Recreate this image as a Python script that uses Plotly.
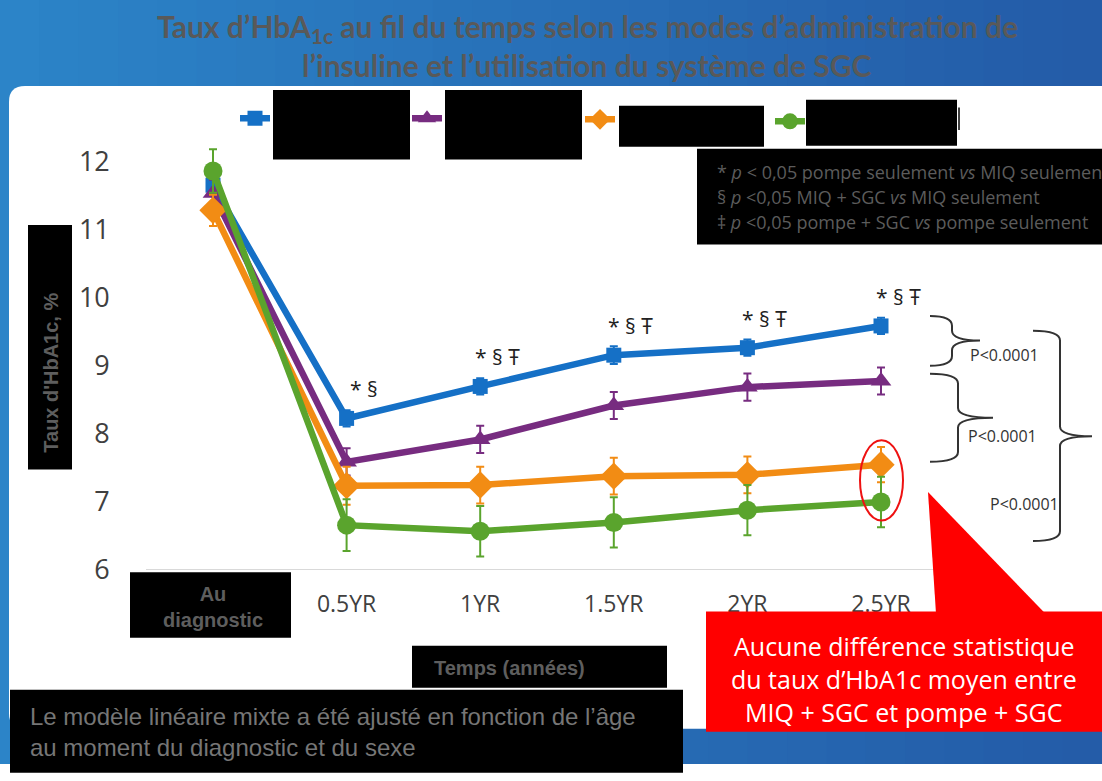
import plotly.graph_objects as go

W, H = 1102, 781

# ---------------- data ----------------
categories = ["Au diagnostic", "0.5YR", "1YR", "1.5YR", "2YR", "2.5YR"]
tick_labels = ["", "0.5YR", "1YR", "1.5YR", "2YR", "2.5YR"]
x_pos = [0, 1, 2, 3, 4, 5]

names = ["MIQ seulement", "Pompe seulement", "MIQ + SGC", "Pompe + SGC"]
miq_only = [11.65, 8.22, 8.69, 9.15, 9.26, 9.58]
pump_only = [11.53, 7.58, 7.91, 8.41, 8.68, 8.77]
miq_sgc = [11.28, 7.23, 7.24, 7.37, 7.39, 7.54]
pump_sgc = [11.86, 6.65, 6.56, 6.69, 6.87, 6.99]

err_miq_only = [0.12, 0.12, 0.12, 0.13, 0.12, 0.12]
err_pump_only = [0.2, 0.2, 0.2, 0.2, 0.2, 0.2]
err_miq_sgc = [0.23, 0.28, 0.27, 0.27, 0.27, 0.26]
err_pump_sgc = [0.32, 0.38, 0.37, 0.37, 0.37, 0.37]

signif = ["", "* §", "* § Ŧ", "* § Ŧ", "* § Ŧ", "* § Ŧ"]

notes = ["* <i>p</i> < 0,05 pompe seulement <i>vs</i> MIQ seulement",
         "§ <i>p</i> <0,05 MIQ + SGC <i>vs</i> MIQ seulement",
         "‡ <i>p</i> <0,05 pompe + SGC <i>vs</i> pompe seulement"]

colors = ["#1570c6", "#772c80", "#f28c14", "#5aa42d"]
symbols = ["square", "triangle-up", "diamond", "circle"]
msizes = [15, 18, 21, 19]


def px(x):
    return x / W


def py(y):
    return 1 - y / H


fig = go.Figure()

series = [miq_only, pump_only, miq_sgc, pump_sgc]
errs = [err_miq_only, err_pump_only, err_miq_sgc, err_pump_sgc]
legends = ["legend", "legend2", "legend3", "legend4"]
for i in range(4):
    fig.add_trace(go.Scatter(
        x=x_pos, y=series[i], name=names[i], mode="lines+markers",
        line=dict(color=colors[i], width=6.5),
        marker=dict(symbol=symbols[i], size=msizes[i], color=colors[i]),
        error_y=dict(type="data", array=errs[i], color=colors[i], thickness=2, width=4),
        cliponaxis=False, legend=legends[i], showlegend=True,
    ))

# ---------------- shapes ----------------
shapes = []
# background gradient
n = 28
c0 = (44, 132, 200)
c1 = (36, 92, 168)
for k in range(n):
    t = k / (n - 1)
    c = tuple(int(c0[j] + (c1[j] - c0[j]) * t) for j in range(3))
    shapes.append(dict(type="rect", xref="paper", yref="paper", layer="below",
                       x0=k / n, x1=(k + 1) / n + 0.002, y0=0, y1=1,
                       fillcolor="rgb(%d,%d,%d)" % c, line=dict(width=0)))

# white rounded panel
r = 16
x0, x1, y0, y1 = 9, 1120, 88, 745
path = (f"M {px(x0+r)},{py(y0)} L {px(x1)},{py(y0)} L {px(x1)},{py(y1)} "
        f"L {px(x0+r)},{py(y1)} Q {px(x0)},{py(y1)} {px(x0)},{py(y1-r)} "
        f"L {px(x0)},{py(y0+r)} Q {px(x0)},{py(y0)} {px(x0+r)},{py(y0)} Z")
shapes.append(dict(type="path", path=path, xref="paper", yref="paper", layer="below",
                   fillcolor="white", line=dict(width=0)))


def brace(xs, ytop, ybot, xv, xp, ym, rr=10):
    p = (f"M {px(xs)},{py(ytop)} Q {px(xv)},{py(ytop)} {px(xv)},{py(ytop+rr)} "
         f"L {px(xv)},{py(ym-rr)} Q {px(xv)},{py(ym)} {px(xp)},{py(ym)} "
         f"Q {px(xv)},{py(ym)} {px(xv)},{py(ym+rr)} "
         f"L {px(xv)},{py(ybot-rr)} Q {px(xv)},{py(ybot)} {px(xs)},{py(ybot)}")
    return dict(type="path", path=p, xref="paper", yref="paper",
                line=dict(color="#333333", width=2))


shapes.append(brace(930, 323, 374, 952, 980, 348))
shapes.append(brace(930, 382, 472, 958, 993, 427))
shapes.append(brace(1033, 338, 553, 1060, 1092, 446))

# red ellipse
shapes.append(dict(type="circle", xref="paper", yref="paper",
                   x0=px(860), x1=px(903), y0=py(532), y1=py(450),
                   line=dict(color="#ee1111", width=2)))
# red callout
shapes.append(dict(type="path", xref="paper", yref="paper",
                   path=f"M {px(928)},{py(503)} L {px(936)},{py(627)} L {px(1045)},{py(627)} Z",
                   fillcolor="#ff0000", line=dict(width=0)))
shapes.append(dict(type="rect", xref="paper", yref="paper",
                   x0=px(706), x1=px(1105), y0=py(748), y1=py(625),
                   fillcolor="#ff0000", line=dict(width=0)))
# thin line next to last legend box
shapes.append(dict(type="line", xref="paper", yref="paper",
                   x0=px(959), x1=px(959), y0=py(110), y1=py(133),
                   line=dict(color="black", width=1.5)))


def box(xl, yt, xr, yb, color="black"):
    shapes.append(dict(type="rect", xref="paper", yref="paper", layer="above",
                       x0=px(xl), x1=px(xr), y0=py(yb), y1=py(yt),
                       fillcolor=color, line=dict(width=0)))


# legend covers
box(273, 92, 410, 163)
box(445, 92, 582, 163)
box(619, 108, 764, 150)
box(806, 102, 957, 149)
# notes box
box(697, 152, 1110, 250)
# y-axis title box
box(28, 230, 72, 480)
# Au diagnostic box
box(130, 585, 291, 652)
# Temps box
box(412, 660, 667, 703)
# bottom note box
box(10, 705, 683, 790)

# ---------------- annotations ----------------
ann = []


def text(x, y, t, size, color, family="Open Sans", xanchor="center", bold=False, angle=0):
    if bold:
        t = "<b>" + t + "</b>"
    ann.append(dict(xref="paper", yref="paper", x=px(x), y=py(y), xanchor=xanchor, yanchor="middle",
                    text=t, showarrow=False, textangle=angle,
                    font=dict(family=family, size=size, color=color)))


# title
text(587, 29, "Taux d’HbA<sub>1c</sub> au fil du temps selon les modes d’administration de",
     30, "#595959", family="Lato", bold=True)
text(587, 66, "l’insuline et l’utilisation du système de SGC", 30, "#595959", family="Lato", bold=True)

for k, t in enumerate(notes):
    text(715, 176 + k * 25.5, t, 18, "#5c5c5c", xanchor="left")

text(51, 381, "Taux d'HbA1c, %", 20, "#5e5e5e", family="Liberation Sans", bold=True, angle=-90)

ann.append(dict(xref="x", yref="paper", x=0, y=py(620), xanchor="center", yanchor="middle",
                text="<b>Au<br>diagnostic</b>", showarrow=False,
                font=dict(family="Liberation Sans", size=20, color="#5e5e5e")))

text(432, 683, "Temps (années)", 20, "#5e5e5e", family="Liberation Sans", xanchor="left", bold=True)

text(28, 732, "Le modèle linéaire mixte a été ajusté en fonction de l’âge", 24, "#767676",
     family="Liberation Sans", xanchor="left")
text(28, 764, "au moment du diagnostic et du sexe", 24, "#767676", family="Liberation Sans", xanchor="left")

text(904, 660, "Aucune différence statistique", 25, "white")
text(904, 694, "du taux d’HbA1c moyen entre", 25, "white")
text(904, 728, "MIQ + SGC et pompe + SGC", 25, "white")

text(968, 363, "P<0.0001", 16, "#333333", xanchor="left")
text(966, 446, "P<0.0001", 16, "#333333", xanchor="left")
text(988, 515, "P<0.0001", 16, "#333333", xanchor="left")

for xi, yi, s in zip(x_pos, miq_only, signif):
    if s:
        ann.append(dict(xref="x", yref="y", x=xi, y=yi, text=s, showarrow=False,
                        xshift=17, yshift=29, font=dict(family="Open Sans", size=21, color="#222222")))

# ---------------- layout ----------------
leg_common = dict(orientation="h", xanchor="left", yanchor="middle", bgcolor="rgba(0,0,0,0)",
                  font=dict(size=12, color="rgba(0,0,0,0)"), itemclick=False)
leg_x = [255, 427, 600, 790]
leg_y = [121, 121, 122, 124]
legs = {}
for k, name in enumerate(legends):
    legs[name] = dict(leg_common, x=px(leg_x[k] - 20), y=py(leg_y[k]))

fig.update_layout(
    width=W, height=H, autosize=False, showlegend=True,
    margin=dict(l=0, r=0, t=0, b=0),
    paper_bgcolor="white", plot_bgcolor="rgba(0,0,0,0)",
    shapes=shapes, annotations=ann,
    xaxis=dict(domain=[px(146.2), px(947.8)], range=[-0.5, 5.5],
               tickvals=x_pos, ticktext=tick_labels, showgrid=False, zeroline=False,
               showline=True, linecolor="#d9d9d9", linewidth=1, ticks="",
               tickfont=dict(family="Open Sans", size=23, color="#404040"),
               ticklabelstandoff=14, fixedrange=True),
    yaxis=dict(domain=[py(582), py(130.25)], range=[6, 12.5],
               tickvals=[6, 7, 8, 9, 10, 11, 12], showgrid=False, zeroline=False,
               showline=False, ticks="outside", ticklen=30, tickcolor="rgba(0,0,0,0)",
               tickfont=dict(family="Open Sans", size=27, color="#404040"),
               fixedrange=True),
    **legs,
)

fig.write_html("out.html")
